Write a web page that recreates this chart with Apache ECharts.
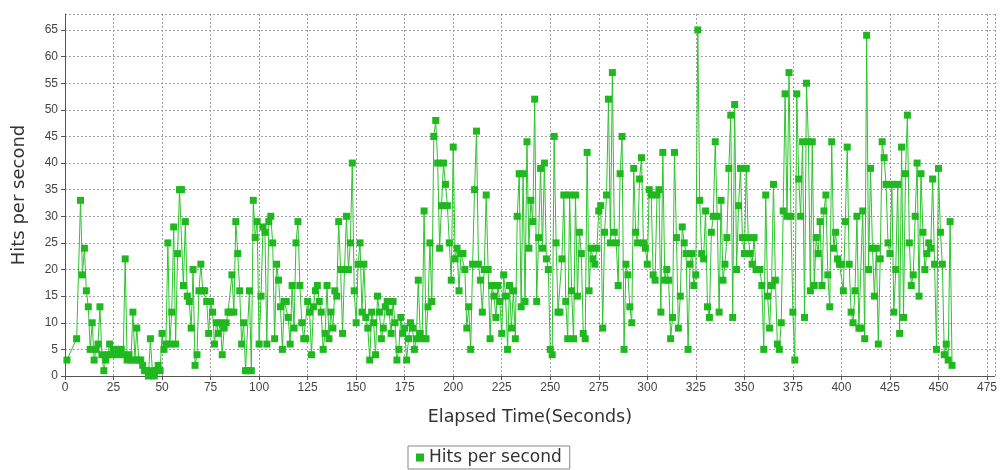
<!DOCTYPE html>
<html>
<head>
<meta charset="utf-8">
<script src="https://cdn.jsdelivr.net/npm/echarts@6/dist/echarts.min.js"></script>
<style>
html,body{margin:0;padding:0;background:#ffffff;}
#chart{width:1000px;height:470px;}
</style>
</head>
<body>
<div id="chart"></div>
<script>
// Elapsed second of the first sample; one sample per second after that (null = no hits recorded)
const startSecond = 1;
const hitsPerSecond = [
  3, null, null, null, null, 7, null, 33, 19, 24,
  16, 13, 5, 10, 3, 5, 6, 13, 4, 1,
  3, 4, 6, 4, 5, 5, 4, 5, 5, 4,
  22, 3, 4, 3, 12, 3, 9, 3, 3, 2,
  1, 1, 0, 7, 1, 0, 1, 2, 1, 8,
  5, 6, 25, 6, 12, 28, 6, 23, 35, 35,
  17, 29, 15, 14, 9, 20, 2, 4, 16, 21,
  16, 16, 14, 8, 14, 12, 6, 10, 8, 10,
  4, 9, 10, 12, 12, 19, 12, 29, 23, 16,
  6, 10, 1, 1, 16, 1, 33, 26, 29, 6,
  15, 28, 27, 6, 29, 30, 25, 7, 21, 18,
  13, 5, 14, 14, 11, 6, 17, 9, 25, 29,
  17, 10, 7, 7, 14, 12, 4, 13, 16, 17,
  14, 12, 5, 8, 17, 7, 12, 9, 16, 15,
  29, 20, 8, 20, 30, 20, 25, 40, 16, 10,
  21, 25, 12, 21, 11, 9, 3, 12, 10, 4,
  15, 12, 7, 9, 13, 14, 12, 8, 14, 10,
  3, 5, 11, 8, 9, 3, 7, 10, 9, 5,
  7, 18, 8, 7, 31, 7, 13, 25, 14, 45,
  48, 40, 24, 32, 40, 36, 32, 25, 18, 43,
  22, 24, 16, 23, 23, 20, 9, 13, 5, 21,
  35, 46, 21, 18, 12, 20, 34, 20, 7, 17,
  15, 11, 17, 14, 8, 19, 15, 5, 17, 9,
  16, 7, 30, 38, 13, 38, 14, 44, 24, 33,
  29, 52, 14, 26, 39, 24, 40, 22, 20, 5,
  4, 45, 25, 12, 12, 22, 34, 14, 7, 34,
  16, 7, 34, 15, 27, 23, 8, 7, 42, 16,
  24, 22, 21, 24, 31, 32, 9, 27, 34, 52,
  25, 57, 27, 25, 17, 38, 45, 5, 21, 19,
  13, 10, 39, 27, 25, 37, 41, 25, 24, 21,
  35, 34, 19, 18, 34, 35, 12, 42, 18, 20,
  18, 7, 11, 42, 26, 9, 15, 28, 25, 23,
  5, 21, 23, 17, 19, 65, 33, 23, 22, 31,
  13, 11, 27, 30, 44, 30, 12, 33, 18, 21,
  26, 39, 49, 11, 51, 20, 32, 39, 26, 23,
  39, 26, 23, 21, 26, 20, 20, 20, 17, 5,
  34, 15, 9, 17, 36, 18, 6, 5, 10, 31,
  53, 30, 57, 30, 12, 3, 53, 37, 30, 44,
  11, 55, 44, 16, 44, 17, 26, 23, 29, 17,
  31, 34, 19, 13, 44, 24, 27, 22, 21, 21,
  16, 29, 43, 21, 12, 10, 16, 30, 9, 9,
  31, 7, 64, 20, 39, 24, 15, 24, 6, 22,
  44, 41, 36, 25, 23, 36, 12, 20, 36, 8,
  43, 11, 38, 49, 25, 17, 19, 30, 40, 15,
  38, 27, 20, 23, 25, 24, 37, 21, 5, 39,
  27, 21, 4, 6, 3, 29, 2
];
const seriesName = 'Hits per second';
const xAxisTitle = 'Elapsed Time(Seconds)';
const yAxisTitle = 'Hits per second';
const xTickStep = 25;
const yTickStep = 5;

const points = hitsPerSecond.map((v, i) => [startSecond + i, v]);

const chart = echarts.init(document.getElementById('chart'), null, {renderer: 'canvas'});
const labelFont = 'Liberation Sans';
const titleFont = 'DejaVu Sans';
chart.setOption({
  animation: false,
  backgroundColor: '#ffffff',
  grid: {left: 65, right: 3, top: 14, bottom: 94, containLabel: false},
  xAxis: {
    type: 'value', min: 0, max: 479, interval: xTickStep,
    name: xAxisTitle, nameLocation: 'middle', nameGap: 32,
    nameTextStyle: {fontFamily: titleFont, fontSize: 17.5, color: '#333'},
    axisLine: {show: true, onZero: false, lineStyle: {color: '#555', width: 1}},
    axisTick: {show: true, length: 4, lineStyle: {color: '#555'}},
    axisLabel: {showMaxLabel: false, fontFamily: labelFont, fontSize: 12, color: '#444', margin: 6},
    splitLine: {show: true, lineStyle: {color: '#a0a0a0', type: [2, 2], width: 1}}
  },
  yAxis: {
    type: 'value', min: 0, max: 68, interval: yTickStep,
    name: yAxisTitle, nameLocation: 'middle', nameGap: 37,
    nameTextStyle: {fontFamily: titleFont, fontSize: 18, color: '#333'},
    axisLine: {show: true, lineStyle: {color: '#555', width: 1}},
    axisTick: {show: true, length: 4, lineStyle: {color: '#555'}},
    axisLabel: {showMaxLabel: false, fontFamily: labelFont, fontSize: 12, color: '#444', margin: 7},
    splitLine: {show: true, lineStyle: {color: '#a0a0a0', type: [2, 2], width: 1}}
  },
  legend: {
    data: [seriesName], left: 408, top: 446, icon: 'rect', itemWidth: 8, itemHeight: 8,
    borderColor: '#888', borderWidth: 1, padding: [3, 8, 3, 8],
    textStyle: {fontFamily: titleFont, fontSize: 17, color: '#333'}
  },
  series: [{
    name: seriesName, type: 'line', data: points, connectNulls: true,
    symbol: 'rect', symbolSize: 7, showSymbol: true,
    itemStyle: {color: '#1fb81f'},
    lineStyle: {color: '#2dc42d', width: 1},
    emphasis: {disabled: true}
  }]
});
</script>
</body>
</html>
